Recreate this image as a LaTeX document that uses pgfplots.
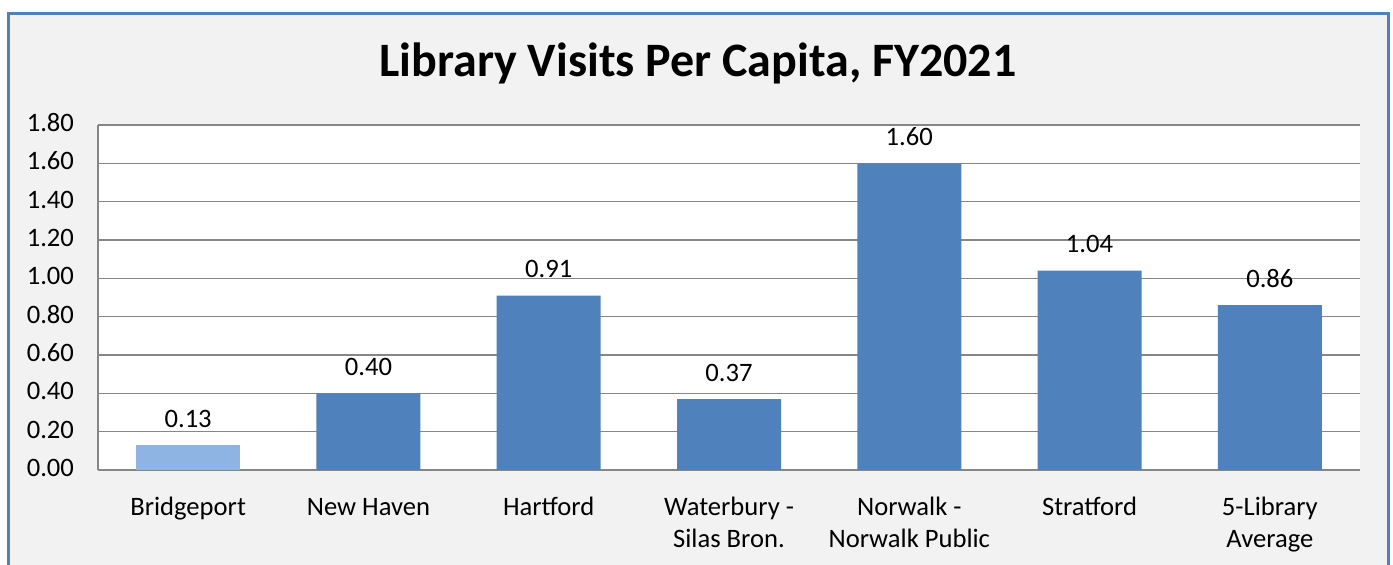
\documentclass[border=0pt]{standalone}
\usepackage{fontspec}
\setmainfont{Carlito}
\usepackage{pgfplots}
\pgfplotsset{compat=1.18}

\definecolor{barblue}{RGB}{79,129,189}
\definecolor{barlight}{RGB}{141,180,226}
\definecolor{frameblue}{RGB}{79,129,189}
\definecolor{panel}{RGB}{242,242,242}
\definecolor{gridgray}{RGB}{134,134,134}

\begin{document}
\begin{tikzpicture}
\useasboundingbox (0,0) rectangle (696.5pt,282.5pt);
\clip (0,0) rectangle (696.5pt,282.5pt);
\fill[panel] (4pt,-10pt) rectangle (694.25pt,275.75pt);
\draw[frameblue, line width=1.5pt] (4pt,-10pt) rectangle (694.25pt,275.75pt);
\node[anchor=base, font=\fontsize{24}{28}\selectfont\bfseries] at (349pt,244pt)
  {Library Visits Per Capita, FY2021};

\begin{axis}[
  at={(49pt,47.5pt)}, anchor=south west,
  scale only axis, width=631pt, height=172.5pt,
  xmin=-0.5, xmax=6.5, ymin=0, ymax=1.8,
  axis x line*=bottom, axis y line*=left,
  axis line style={-, draw=gridgray, line width=0.75pt},
  axis background/.style={fill=white},
  ymajorgrids, major grid style={draw=gridgray, line width=0.75pt},
  major tick length=0pt,
  xtick={0,1,2,3,4,5,6},
  xticklabels={Bridgeport, New Haven, Hartford, {Waterbury -\\Silas Bron.},
    {Norwalk -\\Norwalk Public}, Stratford, {5-Library\\Average}},
  ytick={0,0.2,0.4,0.6,0.8,1.0,1.2,1.4,1.6,1.8},
  /pgf/number format/.cd, fixed, fixed zerofill, precision=2, assume math mode=true,
  /pgfplots/.cd,
  ticklabel style={font=\fontsize{13.3}{16}\selectfont},
  xticklabel style={align=center, yshift=-8pt},
  typeset ticklabels with strut,
  yticklabel style={xshift=-8.5pt},
  nodes near coords,
  nodes near coords style={anchor=base, yshift=9pt, font=\fontsize{13.3}{16}\selectfont},
]
\addplot[ybar, bar width=52pt, fill=barlight, draw=none] coordinates {(0,0.13)};
\addplot[ybar, bar width=52pt, fill=barblue, draw=none] coordinates {
  (1,0.40) (2,0.91) (3,0.37) (4,1.60) (5,1.04) (6,0.86)};
\end{axis}
\end{tikzpicture}
\end{document}
